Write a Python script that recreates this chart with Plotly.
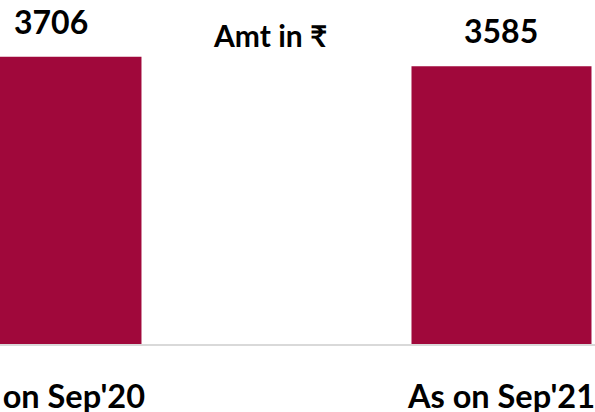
import plotly.graph_objects as go

# data
periods = ["As on Sep'20", "As on Sep'21"]
amounts = [3706, 3585]
unit_note = "Amt in ₹"

BAR_COLOR = "#A0083B"
FONT = "Lato, Noto Sans, sans-serif"

fig = go.Figure()
fig.add_trace(
    go.Bar(
        x=periods,
        y=amounts,
        marker_color=BAR_COLOR,
        marker_line_width=0,
        showlegend=False,
        hoverinfo="skip",
    )
)

anns = []
for p, v in zip(periods, amounts):
    anns.append(
        dict(
            x=p,
            y=v,
            text=str(v),
            showarrow=False,
            yanchor="bottom",
            yshift=14,
            font=dict(family=FONT, size=32, color="black", weight="bold"),
        )
    )
anns.append(
    dict(
        text=unit_note,
        xref="paper",
        yref="paper",
        x=0.453,
        y=1.0,
        yshift=-1,
        yanchor="middle",
        showarrow=False,
        font=dict(family=FONT, size=30, color="black", weight="bold"),
    )
)

fig.update_layout(
    width=595,
    height=412,
    margin=dict(l=0, r=0, t=34, b=68),
    plot_bgcolor="white",
    paper_bgcolor="white",
    bargap=0.6,
    annotations=anns,
)
fig.update_xaxes(
    range=[-0.1144, 1.2078],
    automargin=False,
    showline=True,
    linecolor="#d9d9d9",
    linewidth=2,
    ticks="",
    ticklabelstandoff=23,
    showgrid=False,
    tickfont=dict(family=FONT, size=32.5, color="black", weight="bold"),
)
fig.update_yaxes(range=[0, 4000], visible=False, showgrid=False, automargin=False)

# the page body has a default 8px margin; drop it so the figure fills the window
fig.write_html(
    "out.html",
    config={"displayModeBar": False},
    post_script="document.body.style.margin='0';",
)
